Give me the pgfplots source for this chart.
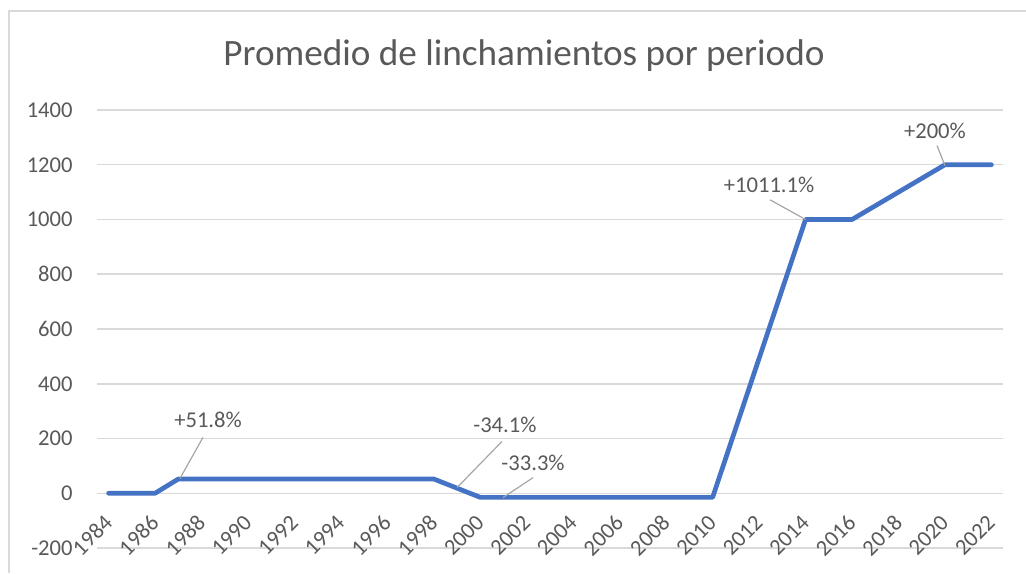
\documentclass[border=0pt]{standalone}
\usepackage{fontspec}
\setmainfont{Carlito}
\usepackage{pgfplots}
\pgfplotsset{compat=1.18}
\definecolor{lineblue}{HTML}{4472C4}
\definecolor{gridgray}{HTML}{D9D9D9}
\definecolor{textgray}{HTML}{595959}
\definecolor{leadgray}{HTML}{A6A6A6}
\begin{document}
\begin{tikzpicture}[x=1pt,y=1pt]
\useasboundingbox (0,0) rectangle (513,286.5);
\draw[gridgray, line width=0.75pt] (4.5,0) -- (4.5,281) -- (513,281);
\node[text=textgray, font=\fontsize{18.6}{22}\selectfont] at (262,258.5) {Promedio de linchamientos por periodo};
\begin{axis}[
 at={(48.5pt,12.5pt)}, anchor=south west,
 scale only axis, width=453pt, height=219pt,
 xmin=1983.5, xmax=2022.5, ymin=-200, ymax=1400,
 ytick={-200,0,...,1400},
 xtick={1984,1986,...,2022},
 axis line style={draw=none},
 major tick length=0pt,
 ymajorgrids, grid style={gridgray, line width=0.75pt},
 tick label style={text=textgray, font=\fontsize{11.3}{13}\selectfont},
 /pgf/number format/assume math mode=true,
 /pgf/number format/set thousands separator={},
 yticklabel style={anchor=east, inner sep=0pt, xshift=-12pt},
 xticklabel style={yshift=14.5pt, rotate=45, anchor=east, inner sep=0pt},
 clip=false,
]
\addplot[lineblue, line width=2.35pt, line cap=round, line join=round] coordinates {
(1984,0) (1986,0) (1987,52) (1998,52) (2000,-15) (2010,-15) (2014,1000) (2016,1000) (2020,1200) (2022,1200)};
\draw[leadgray, line width=0.6pt] (axis cs:1988.06,203.7) -- (axis cs:1987.07,53.7);
\draw[leadgray, line width=0.6pt] (axis cs:2000.93,189) -- (axis cs:1999.0,20.8);
\draw[leadgray, line width=0.6pt] (axis cs:2002.27,57) -- (axis cs:2000.98,-15.7);
\draw[leadgray, line width=0.6pt] (axis cs:2012.47,1072) -- (axis cs:2014.0,1000);
\draw[leadgray, line width=0.6pt] (axis cs:2019.66,1270) -- (axis cs:2020,1197);
\begin{scope}[every node/.style={text=textgray, font=\fontsize{11.3}{13}\selectfont, inner sep=0pt}]
\node at (axis cs:1988.28,269) {+51.8\%};
\node at (axis cs:2001.06,251) {-34.1\%};
\node at (axis cs:2002.27,112) {-33.3\%};
\node at (axis cs:2012.43,1127) {+1011.1\%};
\node at (axis cs:2019.57,1325) {+200\%};
\end{scope}
\end{axis}
\end{tikzpicture}
\end{document}
